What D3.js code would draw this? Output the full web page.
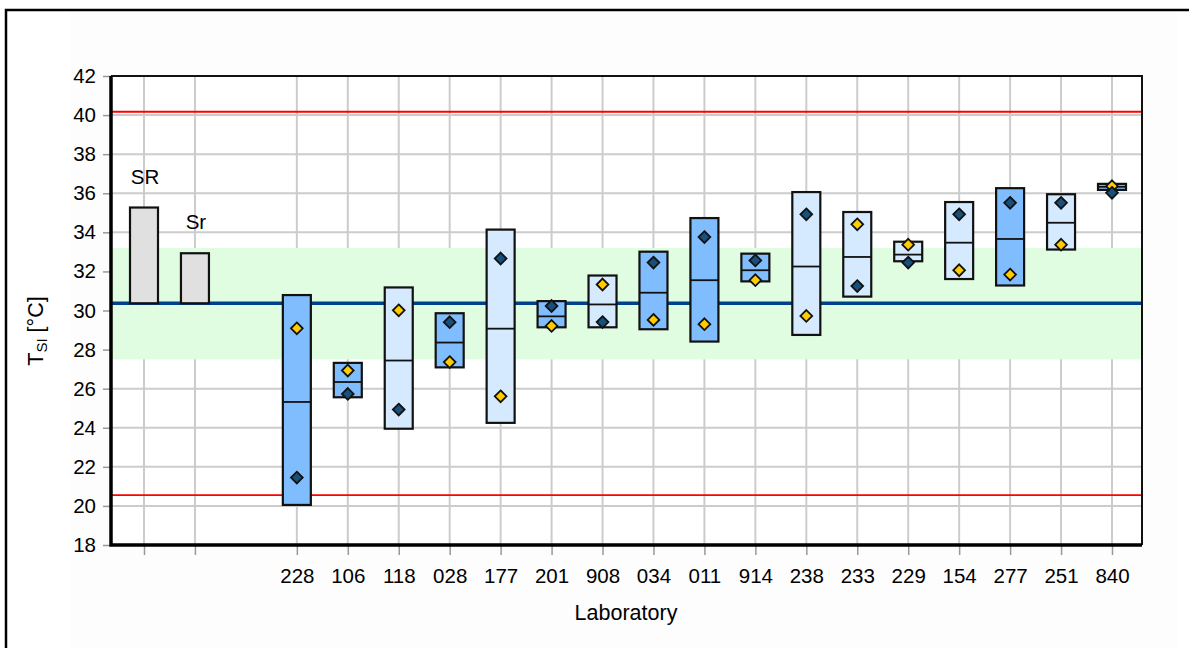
<!DOCTYPE html>
<html>
    <head>
        <meta charset="utf-8">
        <title>Laboratory T_SI chart</title>
        <script src="https://cdn.jsdelivr.net/npm/d3@7"></script>
        <style>
            body { margin: 0; background: #fff; }
            text { font-family: "Liberation Sans", Arial, sans-serif; }
        </style>
    </head>
    <body>
        <script>
            // laboratories, in plotted order
            var labs = ["228","106","118","028","177","201","908","034","011","914","238","233","229","154","277","251","840"];
            // box bottom / top, middle line
            var boxLow  = [20.05,25.56,23.95,27.09,24.25,29.14,29.14,29.04,28.41,31.49,28.75,30.71,32.52,31.61,31.28,33.12,36.17];
            var boxHigh = [30.79,27.32,31.18,29.86,34.14,30.48,31.79,33.01,34.73,32.91,36.06,35.04,33.52,35.55,36.26,35.95,36.48];
            var boxMid  = [25.32,26.34,27.44,28.36,29.07,29.70,30.31,30.91,31.55,32.06,32.25,32.74,32.86,33.47,33.66,34.49,36.33];
            // the two single results per lab
            var valDark   = [21.45,25.73,24.93,29.40,32.66,30.23,29.41,32.45,33.76,32.56,34.92,31.25,32.45,34.92,35.51,35.51,36.02];
            var valYellow = [29.09,26.93,30.01,27.36,25.61,29.21,31.33,29.52,29.30,31.55,29.72,34.41,33.37,32.06,31.84,33.37,36.36];
            // 1 = light blue box
            var lightBox  = [0,0,1,0,1,0,1,0,0,0,1,1,1,1,0,1,0];

            var meanValue = 30.37;
            var bandLow = 27.5, bandHigh = 33.2;
            var limitLow = 20.55, limitHigh = 40.17;
            var sdNames = ["SR","Sr"];
            var sdValues = [4.9, 2.56];
            var yTicks = d3.range(18, 43, 2);

            var W = 1189, H = 648;
            var mLeft = 111, mRight = 1142, mTop = 76, mBottom = 545;

            var slots = sdNames.concat(["_gap"], labs);
            var x = d3.scalePoint().domain(slots).range([144, 1112]);
            var y = d3.scaleLinear().domain([18, 42]).range([mBottom, mTop]);
            var bw = 28;

            var svg = d3.select("body").append("svg")
                .attr("width", W).attr("height", H);

            svg.append("rect").attr("x", 70).attr("y", 12).attr("width", 1107).attr("height", H - 12)
                .attr("fill", "#fdfdfe");

            // outer frame (only left and top show)
            svg.append("path").attr("d", "M6,648 V10 H1189")
                .attr("fill", "none").attr("stroke", "#000").attr("stroke-width", 2.5);

            svg.append("rect").attr("x", mLeft).attr("y", mTop)
                .attr("width", mRight - mLeft).attr("height", mBottom - mTop).attr("fill", "#fff");

            var tickSlots = sdNames.concat(labs);

            // grid
            svg.append("g").selectAll("line").data(yTicks).enter().append("line")
                .attr("x1", mLeft).attr("x2", mRight)
                .attr("y1", function(d){ return y(d); }).attr("y2", function(d){ return y(d); })
                .attr("stroke", "#cccccc").attr("stroke-width", 2);
            svg.append("g").selectAll("line").data(tickSlots).enter().append("line")
                .attr("y1", mTop).attr("y2", mBottom)
                .attr("x1", function(d){ return x(d); }).attr("x2", function(d){ return x(d); })
                .attr("stroke", "#cccccc").attr("stroke-width", 2);

            // band, limits, mean
            svg.append("rect").attr("x", mLeft).attr("width", mRight - mLeft)
                .attr("y", y(bandHigh)).attr("height", y(bandLow) - y(bandHigh))
                .attr("fill", "#e1fde1");
            [limitLow, limitHigh].forEach(function(v){
                svg.append("line").attr("x1", mLeft).attr("x2", mRight)
                    .attr("y1", y(v)).attr("y2", y(v))
                    .attr("stroke", "#ff0000").attr("stroke-width", 1.8);
            });
            svg.append("line").attr("x1", mLeft).attr("x2", mRight)
                .attr("y1", y(meanValue)).attr("y2", y(meanValue))
                .attr("stroke", "#00418c").attr("stroke-width", 3.3);

            // SR / Sr boxes
            sdNames.forEach(function(n, i){
                svg.append("rect").attr("x", x(n) - bw/2).attr("width", bw)
                    .attr("y", y(meanValue + sdValues[i]))
                    .attr("height", y(meanValue) - y(meanValue + sdValues[i]))
                    .attr("fill", "#e0e0e0").attr("stroke", "#111").attr("stroke-width", 2.2);
                svg.append("text").attr("x", x(n) + 1).attr("y", y(meanValue + sdValues[i]) - 24)
                    .attr("text-anchor", "middle").attr("font-size", 20.5).text(n);
            });

            // lab boxes
            labs.forEach(function(l, i){
                var g = svg.append("g");
                g.append("rect").attr("x", x(l) - bw/2).attr("width", bw)
                    .attr("y", y(boxHigh[i])).attr("height", y(boxLow[i]) - y(boxHigh[i]))
                    .attr("fill", lightBox[i] ? "#d6eaff" : "#80bdff")
                    .attr("stroke", "#111").attr("stroke-width", 2.2);
                g.append("line").attr("x1", x(l) - bw/2).attr("x2", x(l) + bw/2)
                    .attr("y1", y(boxMid[i])).attr("y2", y(boxMid[i]))
                    .attr("stroke", "#111").attr("stroke-width", 1.8);
            });

            var diamond = d3.symbol().type(d3.symbolDiamond2).size(88);
            function marks(vals, color){
                svg.append("g").selectAll("path").data(labs).enter().append("path")
                    .attr("d", diamond)
                    .attr("transform", function(d, i){ return "translate(" + x(d) + "," + y(vals[i]) + ")"; })
                    .attr("fill", color).attr("stroke", "#111").attr("stroke-width", 1.8);
            }
            marks(valYellow, "#ffcc00");
            marks(valDark, "#17507a");

            // axes
            var yAxis = d3.axisLeft(y).tickValues(yTicks).tickSize(8).tickPadding(7);
            var gy = svg.append("g").attr("transform", "translate(" + mLeft + ",0)").call(yAxis);
            gy.select(".domain").remove();
            gy.selectAll(".tick line").attr("stroke", "#999").attr("stroke-width", 1.5);
            gy.selectAll("text").attr("font-size", 20.5).attr("fill", "#000")
                .attr("font-family", "Liberation Sans, Arial, sans-serif");

            var xAxis = d3.axisBottom(x).tickValues(tickSlots).tickSize(10).tickPadding(13)
                .tickFormat(function(d){ return sdNames.indexOf(d) >= 0 ? "" : d; });
            var gx = svg.append("g").attr("transform", "translate(0," + mBottom + ")").call(xAxis);
            gx.select(".domain").remove();
            gx.selectAll(".tick line").attr("stroke", "#999").attr("stroke-width", 1.5);
            gx.selectAll("text").attr("font-size", 20.5).attr("fill", "#000")
                .attr("font-family", "Liberation Sans, Arial, sans-serif");

            // plot frame
            svg.append("path").attr("d", "M" + mLeft + "," + mTop + " H" + mRight + " V" + mBottom)
                .attr("fill", "none").attr("stroke", "#111").attr("stroke-width", 2);
            svg.append("path").attr("d", "M" + mLeft + "," + mTop + " V" + mBottom + " H" + mRight)
                .attr("fill", "none").attr("stroke", "#000").attr("stroke-width", 3.5);

            // titles
            svg.append("text").attr("x", 626).attr("y", 620)
                .attr("text-anchor", "middle").attr("font-size", 21.5).text("Laboratory");
            var yt = svg.append("text").attr("transform", "translate(43,331) rotate(-90)")
                .attr("text-anchor", "middle").attr("font-size", 21.5);
            yt.append("tspan").text("T");
            yt.append("tspan").attr("font-size", 15).attr("dy", 4).text("SI");
            yt.append("tspan").attr("dy", -4).text(" [°C]");
        </script>
    </body>
</html>
